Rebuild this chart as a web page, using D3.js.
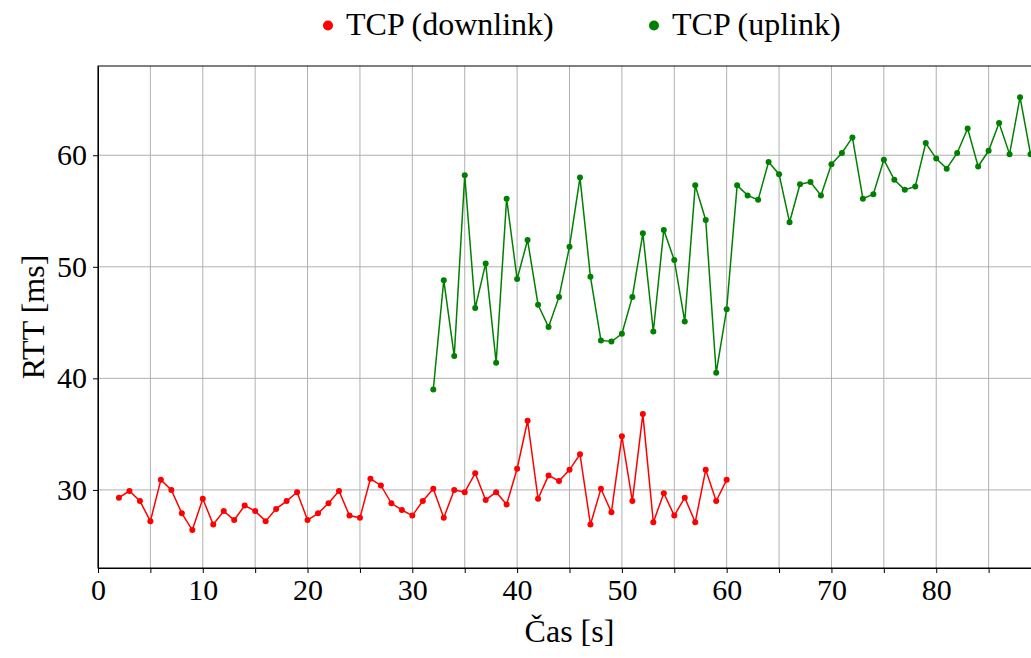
<!DOCTYPE html>
<html>
<head>
<meta charset="utf-8">
<script src="https://cdn.jsdelivr.net/npm/d3@7"></script>
<style>
  body { margin: 0; background: #fff; }
  svg { display: block; font-family: "Liberation Serif", "Times New Roman", serif; }
  .grid line { stroke: #b0b0b0; stroke-width: 1; }
  .axis path, .axis line { stroke: #000; }
  .axis text { font-size: 30px; fill: #000; font-family: "Liberation Serif", serif; }
</style>
</head>
<body>
<svg id="chart" width="1031" height="658"></svg>
<script>
// time axis values [s]
const downTime = [2,3,4,5,6,7,8,9,10,11,12,13,14,15,16,17,18,19,20,21,22,23,24,25,26,27,28,29,30,
  31,32,33,34,35,36,37,38,39,40,41,42,43,44,45,46,47,48,49,50,51,52,53,54,55,56,57,58,59,60];
// RTT downlink [ms]
const downRtt = [29.3,29.9,29.0,27.2,30.9,30.0,27.9,26.4,29.2,26.9,28.1,27.3,28.6,28.1,27.2,28.3,29.0,29.8,
  27.3,27.9,28.8,29.9,27.7,27.5,31.0,30.4,28.8,28.2,27.7,29.0,30.1,27.5,30.0,29.8,31.5,29.1,29.8,28.7,
  31.9,36.2,29.2,31.3,30.8,31.8,33.2,26.9,30.1,28.0,34.8,29.0,36.8,27.1,29.7,27.7,29.3,27.1,31.8,29.0,30.9];

const upTime = [32,33,34,35,36,37,38,39,40,41,42,43,44,45,46,47,48,49,50,51,52,53,54,55,56,57,58,59,60,
  61,62,63,64,65,66,67,68,69,70,71,72,73,74,75,76,77,78,79,80,81,82,83,84,85,86,87,88,89];
// RTT uplink [ms]
const upRtt = [39.0,48.8,42.0,58.2,46.3,50.3,41.4,56.1,48.9,52.4,46.6,44.6,47.3,51.8,58.0,49.1,43.4,43.3,
  44.0,47.3,53.0,44.2,53.3,50.6,45.1,57.3,54.2,40.5,46.2,57.3,56.4,56.0,59.4,58.3,54.0,57.4,57.6,56.4,
  59.2,60.2,61.6,56.1,56.5,59.6,57.8,56.9,57.2,61.1,59.7,58.8,60.2,62.4,59.0,60.4,62.9,60.1,65.2,60.1];

const xTicks = [0,5,10,15,20,25,30,35,40,45,50,55,60,65,70,75,80,85,90];
const yTicks = [30,40,50,60];

const seriesNames = ["TCP (downlink)", "TCP (uplink)"];
const seriesColors = ["#ff0000", "#008000"];

const svg = d3.select("#chart");
const pLeft = 98, pTop = 66, pRight = 1041, pBottom = 568;

const x = d3.scaleLinear().domain([0, 90]).range([pLeft, pRight]);
const y = d3.scaleLinear().domain([23, 68]).range([pBottom, pTop]);

svg.append("clipPath").attr("id", "plotClip")
  .append("rect").attr("x", pLeft).attr("y", pTop).attr("width", pRight - pLeft).attr("height", pBottom - pTop);

// grid
const grid = svg.append("g").attr("class", "grid");
grid.selectAll(".vx").data(xTicks).enter().append("line")
  .attr("x1", d => x(d)).attr("x2", d => x(d)).attr("y1", pTop).attr("y2", pBottom);
grid.selectAll(".hy").data(yTicks).enter().append("line")
  .attr("x1", pLeft).attr("x2", pRight).attr("y1", d => y(d)).attr("y2", d => y(d));

// series
const plot = svg.append("g").attr("clip-path", "url(#plotClip)");
const series = [
  {t: downTime, v: downRtt, c: seriesColors[0]},
  {t: upTime, v: upRtt, c: seriesColors[1]}
];
const line = d3.line().x(d => x(d[0])).y(d => y(d[1]));
series.forEach(s => {
  const pts = s.t.map((t, i) => [t, s.v[i]]);
  plot.append("path").datum(pts).attr("d", line)
    .attr("fill", "none").attr("stroke", s.c).attr("stroke-width", 1.5);
  plot.selectAll(null).data(pts).enter().append("circle")
    .attr("cx", d => x(d[0])).attr("cy", d => y(d[1])).attr("r", 3).attr("fill", s.c);
});

// axes
const xAxis = d3.axisBottom(x).tickValues(xTicks).tickSize(5).tickPadding(6).tickSizeOuter(0)
  .tickFormat(d => d % 10 === 0 && d < 90 ? d : "");
svg.append("g").attr("class", "axis").attr("transform", `translate(0,${pBottom})`).call(xAxis);

const yAxis = d3.axisLeft(y).tickValues(yTicks).tickSize(5).tickPadding(6).tickSizeOuter(0);
svg.append("g").attr("class", "axis").attr("transform", `translate(${pLeft},0)`).call(yAxis);

// spines
svg.append("rect").attr("x", pLeft).attr("y", pTop).attr("width", pRight - pLeft).attr("height", pBottom - pTop)
  .attr("fill", "none").attr("stroke", "#000").attr("stroke-width", 1);

// axis labels
svg.append("text").attr("x", (pLeft + pRight) / 2).attr("y", 642).attr("text-anchor", "middle")
  .attr("font-size", 32).text("Čas [s]");
svg.append("text").attr("transform", `translate(44,${(pTop + pBottom) / 2}) rotate(-90)`)
  .attr("text-anchor", "middle").attr("font-size", 32).text("RTT [ms]");

// legend
const legendX = [328, 654];
seriesNames.forEach((n, i) => {
  svg.append("circle").attr("cx", legendX[i]).attr("cy", 25.5).attr("r", 5).attr("fill", seriesColors[i]);
  svg.append("text").attr("x", legendX[i] + 18).attr("y", 35).attr("font-size", 32).text(n);
});
</script>
</body>
</html>
